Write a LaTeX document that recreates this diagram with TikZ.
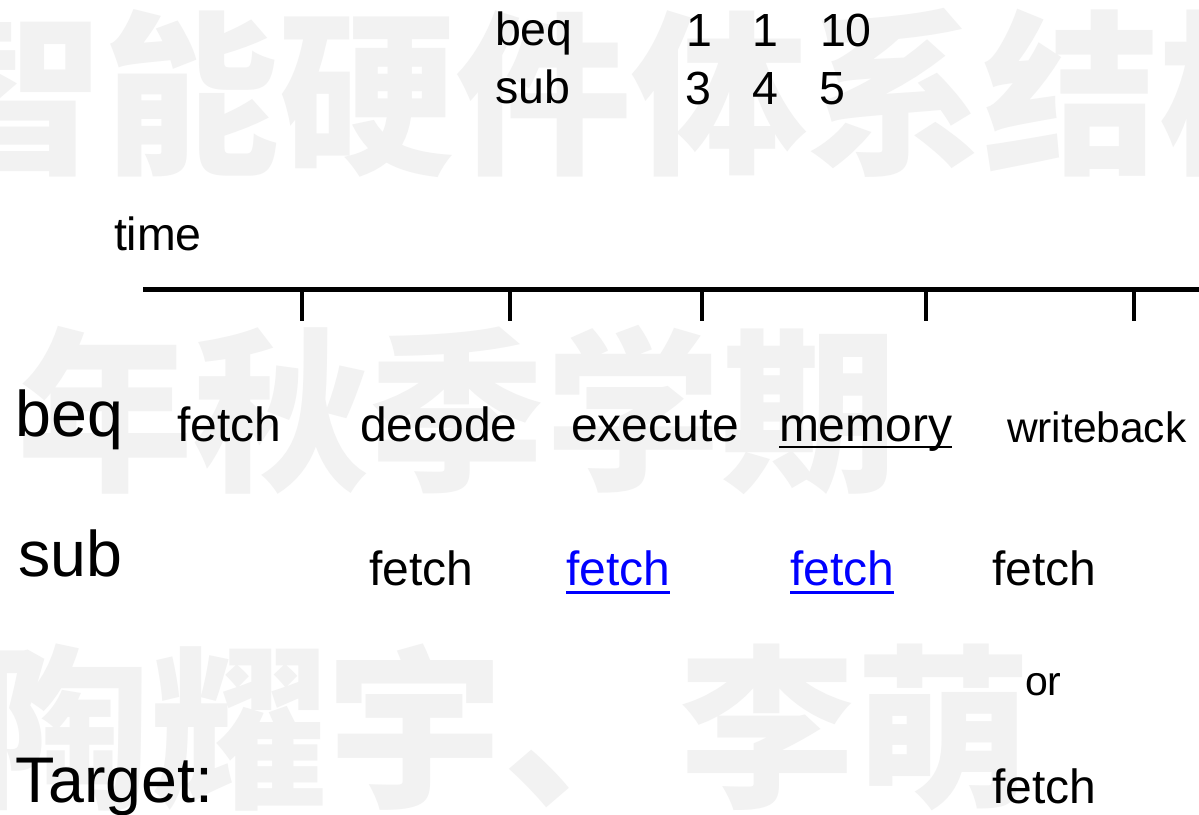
\documentclass[tikz,border=0pt]{standalone}
\usepackage{fontspec}
\setmainfont{Liberation Sans}
\newfontfamily\cjk{Noto Sans CJK SC}
\usetikzlibrary{calc}
\definecolor{wmgray}{HTML}{F2F2F2}
\definecolor{linkblue}{HTML}{0000FF}
\newcommand{\fsz}[1]{\fontsize{#1}{#1}\selectfont}
\tikzset{
  txt/.style={inner sep=0pt, outer sep=0pt, anchor=base west},
  small/.style={txt, font=\fsz{46.5}},
  stage/.style={txt, font=\fsz{48}},
  rowlabel/.style={txt, font=\fsz{64.5}},
  link/.style={stage, text=linkblue},
  watermark/.style={txt, text=wmgray, font=\cjk\bfseries\fsz{176}},
  axis/.style={line width=5pt},
  tick/.style={line width=4pt},
  uline/.style={line width=2.5pt},
}
\begin{document}
\begin{tikzpicture}[x=1pt, y=-1pt]
  % canvas
  \fill[white] (0,0) rectangle (1199,814);
  \useasboundingbox (0,0) rectangle (1199,814);

  % background watermark rows
  \node[watermark] (wm1) at (-72,160) {智能硬件体系结构};
  \node[watermark] (wm2) at (17,477) {年秋季学期};
  \node[watermark] (wm3) at (-24,794) {陶耀宇、李萌};

  % instruction operands
  \node[small] (i1) at (495,45) {beq};
  \node[small] (i2) at (495,103) {sub};
  \node[small] (a1) at (686,46) {1};
  \node[small] (b1) at (752,46) {1};
  \node[small] (c1) at (820,46) {10};
  \node[small] (a2) at (685,104) {3};
  \node[small] (b2) at (752,104) {4};
  \node[small] (c2) at (819,104) {5};

  % time axis
  \node[small] (time) at (114,250) {time};
  \coordinate (ax0) at (143,289);
  \coordinate (ax1) at (1199,289);
  \draw[axis] (ax0) -- (ax1);
  \foreach \t/\x in {t1/302, t2/510, t3/702, t4/926, t5/1134} {
    \coordinate (\t) at (\x,289);
    \draw[tick] (\t) -- ++(0,32);
  }

  % beq pipeline
  \node[rowlabel] (lbeq) at (16,436) {beq};
  \node[stage] (s1) at (177,441) {fetch};
  \node[stage] (s2) at (360,441) {decode};
  \node[stage] (s3) at (571,441) {execute};
  \node[stage] (s4) at (779,441) {memory};
  \node[txt, font=\fsz{42.5}] (s5) at (1007,442) {writeback};
  \draw[uline] ($(s4.base west)+(0,6)$) -- ($(s4.base east)+(0,6)$);

  % sub pipeline
  \node[rowlabel] (lsub) at (18,576) {sub};
  \node[stage] (f1) at (369,585) {fetch};
  \node[link] (f2) at (566,585) {fetch};
  \node[link] (f3) at (790,585) {fetch};
  \node[stage] (f4) at (992,585) {fetch};
  \draw[uline, linkblue, line width=3pt] ($(f2.base west)+(0,7)$) -- ($(f2.base east)+(0,7)$);
  \draw[uline, linkblue, line width=3pt] ($(f3.base west)+(0,7)$) -- ($(f3.base east)+(0,7)$);

  % target
  \node[txt, font=\fsz{41}] (or) at (1025,695) {or};
  \node[rowlabel] (ltarget) at (16,802) {Target:};
  \node[stage] (f5) at (992,803) {fetch};
\end{tikzpicture}
\end{document}
